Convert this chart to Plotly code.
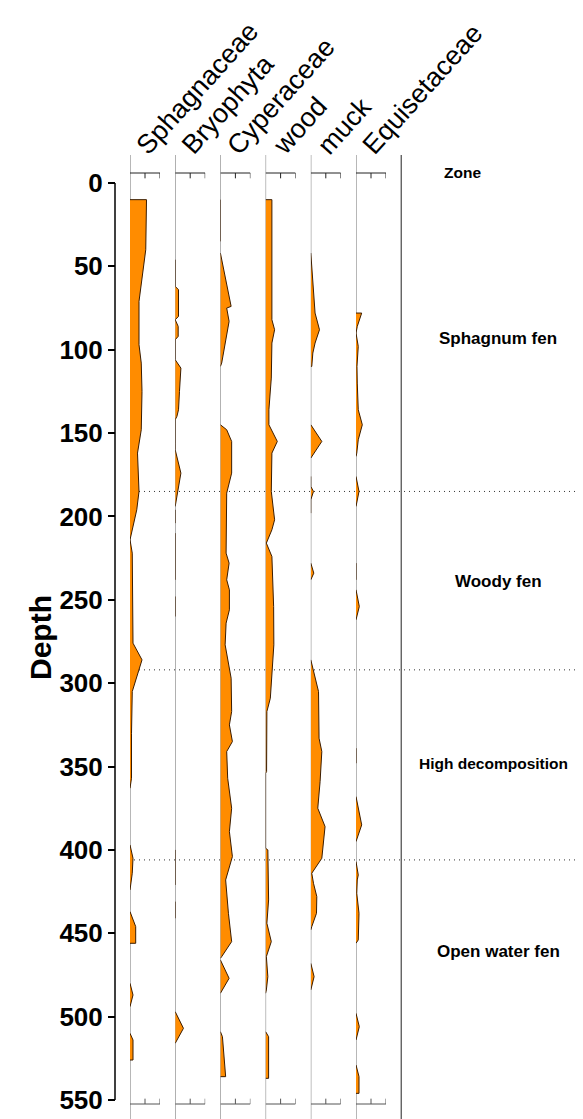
import plotly.graph_objects as go

# ---------------- data ----------------
taxa = ["Sphagnaceae", "Bryophyta", "Cyperaceae", "wood", "muck", "Equisetaceae"]

# each series: list of segments, each segment = (depths, values in %)
sphag_depth = [[10, 40, 71, 97, 108, 125, 136, 148, 162, 185, 196, 214, 222, 250, 276, 286, 305, 330, 357, 363],
               [397, 405, 414, 424], [437, 446, 456], [480, 487, 494], [510, 514, 526]]
sphag_val = [[22, 21, 12, 12, 15, 16, 16, 15, 10, 12, 9, 0, 3, 4, 4, 16, 3, 2, 2, 0],
             [0, 4, 3, 0], [0, 7.6, 7.6], [0, 4, 0], [0, 4, 4]]

bryo_depth = [[46, 62, 64, 80, 82, 86, 92, 94, 106, 111, 125, 136, 140, 142, 156, 160, 174, 194],
              [196, 204], [210, 238], [248, 260], [400, 421], [431, 441], [497, 507, 516]]
bryo_val = [[0, 0, 4.4, 4.4, 0, 4, 4, 0, 0, 7.6, 5.7, 4.4, 2.3, 0, 0, 0, 7.6, 0],
            [0, 0], [0, 0], [0, 0], [0, 0], [0, 0], [0, 11, 0]]

cyper_depth = [[10, 35], [42, 74, 75, 83, 108, 110],
               [145, 148, 155, 174, 186, 222, 228, 238, 244, 256, 264, 277, 297, 317, 325, 335, 341, 357,
                375, 389, 404, 418, 438, 455, 464, 465],
               [466, 477, 486], [509, 512, 536]]
cyper_val = [[0, 0], [0, 14.3, 8.4, 11.6, 1.7, 0],
             [0, 8.4, 15, 15, 8.4, 7.6, 11.6, 8.4, 12, 12, 7.6, 6.3, 14.3, 15, 12, 16, 8.4, 9.7,
              15, 12, 16, 7, 10.7, 15, 1.7, 0],
             [0, 11.6, 0], [0, 2.7, 7]]

wood_depth = [[10, 82, 88, 96, 117, 136, 145, 155, 162, 185, 202, 208, 216, 224, 254, 277, 309, 317,
               353, 354, 399, 400, 418, 430, 444, 455, 464, 476, 484, 486], [509, 512, 537]]
wood_val = [[8.4, 8.4, 12, 8.4, 7.6, 4.4, 4.4, 15.6, 8.4, 7.6, 12, 8.4, 1, 8.4, 10.7, 11, 6.3, 1.7,
             1.3, 0, 0, 3, 3, 4, 1.7, 7.6, 1, 3, 1, 0], [0, 4, 4]]

muck_depth = [[42, 58, 78, 88, 96, 102, 110], [145, 155, 165], [176, 182, 185, 190, 198], [228, 234, 238],
              [286, 305, 333, 341, 359, 375, 386, 405, 414, 420, 428, 438, 446, 448], [468, 476, 484]]
muck_val = [[0, 2.3, 5.7, 11.6, 5.7, 2.7, 1.3], [0, 14.7, 0], [0, 0, 3.6, 0, 0], [0, 4, 0],
            [0, 10.3, 11, 14.7, 12.4, 9.3, 19, 14.7, 1.3, 3.6, 8, 7.6, 1.3, 0], [0, 4.4, 0]]

equis_depth = [[78, 86, 90, 98, 110, 120, 136, 145, 154, 162, 164], [176, 185, 194], [228, 238],
               [244, 254, 262], [339, 348], [368, 385, 395], [407, 415, 418, 426, 438, 454, 456],
               [498, 506, 514], [529, 536, 546]]
equis_val = [[7.6, 1.7, 0, 3, 1.3, 1.7, 3, 8.4, 3, 1, 0], [0, 4, 0], [0, 0], [0, 4.4, 0], [0, 0],
             [0, 7.6, 0], [0, 3, 1.7, 1, 4, 3, 0], [0, 4.4, 0], [0, 4, 4]]

series_depths = [sphag_depth, bryo_depth, cyper_depth, wood_depth, muck_depth, equis_depth]
series_values = [sphag_val, bryo_val, cyper_val, wood_val, muck_val, equis_val]

zone_names = ["Sphagnum fen", "Woody fen", "High decomposition", "Open water fen"]
zone_label_depth = [93, 239, 348, 461]
zone_bounds = [185, 292, 406]

y_ticks = [0, 50, 100, 150, 200, 250, 300, 350, 400, 450, 500, 550]
x_ticks = [0, 20, 40]

# ---------------- layout geometry (screen pixels; page body has an 8px margin) ----------------
OFF = 8
W, H = 583 - OFF, 1119 - OFF
PLOT_L, PLOT_T = 115, 155          # screen px of plot-area left / top
ML, MT = PLOT_L - OFF, PLOT_T - OFF
PW, PH = W - ML, H - MT
Y0_PX, PX_PER_UNIT = 183, 1.6673   # screen y of depth 0 and scale
panel_left = [130, 175.2, 220.4, 265.6, 310.8, 356.0]
divider_px = 401.2
axis_w_px = 30
x_max = 40
zone_label_x = [498, 498, 493, 498]
zone_label_size = [17, 17, 15.5, 17]

def px_x(px):
    return (px - PLOT_L) / PW

def px_y(py):
    return 1 - (py - PLOT_T) / PH

def px_depth(py):
    return (py - Y0_PX) / PX_PER_UNIT

fill_col = "#FF8C00"
edge_col = "#3a1c00"

fig = go.Figure()
shapes = []
annotations = []

for k, (segs_d, segs_v) in enumerate(zip(series_depths, series_values)):
    xs, ys = [], []
    for d, v in zip(segs_d, segs_v):
        xs += [0] + list(v) + [0, None]
        ys += [d[0]] + list(d) + [d[-1], None]
    xname = "x" if k == 0 else f"x{k+1}"
    fig.add_trace(go.Scatter(x=xs, y=ys, mode="lines", fill="toself", fillcolor=fill_col,
                             line=dict(color=edge_col, width=1), xaxis=xname, yaxis="y",
                             hoverinfo="skip", showlegend=False, name=taxa[k]))
    ax = dict(domain=[px_x(panel_left[k]), px_x(panel_left[k] + axis_w_px)], range=[0, x_max],
              visible=False, anchor="y", fixedrange=True)
    fig.update_layout(**{("xaxis" if k == 0 else f"xaxis{k+1}"): ax})

    # panel baseline
    shapes.append(dict(type="line", xref=xname, yref="paper", x0=0, x1=0, y0=0, y1=1,
                       line=dict(color="#707070", width=1), layer="below"))
    # top & bottom mini axes
    dtop = px_depth(173)
    dbot = px_depth(1104)
    tl = 3.2
    shapes.append(dict(type="line", xref=xname, yref="y", x0=0, x1=x_ticks[-1], y0=dtop, y1=dtop,
                       line=dict(color="#222", width=1)))
    shapes.append(dict(type="line", xref=xname, yref="y", x0=0, x1=x_ticks[-1], y0=dbot, y1=dbot,
                       line=dict(color="#555", width=1)))
    for t in x_ticks[1:]:
        shapes.append(dict(type="line", xref=xname, yref="y", x0=t, x1=t, y0=dtop, y1=dtop + tl,
                           line=dict(color="#222", width=1)))
        shapes.append(dict(type="line", xref=xname, yref="y", x0=t, x1=t, y0=dbot, y1=dbot - tl,
                           line=dict(color="#555", width=1)))
    # header
    annotations.append(dict(text=taxa[k], xref="paper", yref="paper", x=px_x(panel_left[k] - 2),
                            y=px_y(163), xanchor="left", yanchor="bottom", textangle=-48,
                            showarrow=False, font=dict(family="Liberation Sans, Arial", size=27, color="black")))

# divider line
shapes.append(dict(type="line", xref="paper", yref="paper", x0=px_x(divider_px), x1=px_x(divider_px),
                   y0=0, y1=1, line=dict(color="#222", width=1)))
# y axis line
shapes.append(dict(type="line", xref="paper", yref="y", x0=0, x1=0, y0=y_ticks[0], y1=y_ticks[-1],
                   line=dict(color="black", width=1.5)))
# zone boundaries
for b in zone_bounds:
    shapes.append(dict(type="line", xref="paper", yref="y", x0=px_x(134), x1=1, y0=b, y1=b,
                       line=dict(color="#333", width=1, dash="1px,4px"), layer="below"))

zone_font = dict(family="Liberation Sans, Arial, sans-serif", size=17, color="black", weight="bold")
for name, d, zx, zs in zip(zone_names, zone_label_depth, zone_label_x, zone_label_size):
    annotations.append(dict(text=name, xref="paper", yref="y", x=px_x(zx), y=d, xanchor="center",
                            yanchor="middle", showarrow=False, font=dict(zone_font, size=zs)))
annotations.append(dict(text="Zone", xref="paper", yref="paper", x=px_x(462), y=px_y(172),
                        xanchor="center", yanchor="middle", showarrow=False,
                        font=dict(zone_font, size=15.5)))
annotations.append(dict(text="Depth", xref="paper", yref="y", x=px_x(40), y=px_depth(638), xanchor="center",
                        yanchor="middle", textangle=-90, showarrow=False,
                        font=dict(family="Liberation Sans, Arial", size=30, color="black", weight="bold")))

fig.update_layout(
    width=W, height=H,
    margin=dict(l=ML, r=0, t=MT, b=0, pad=0),
    paper_bgcolor="white", plot_bgcolor="white",
    yaxis=dict(range=[px_depth(1119), px_depth(PLOT_T)], anchor="free", position=0,
               tickmode="array", tickvals=y_ticks, ticktext=[str(t) for t in y_ticks],
               ticks="outside", ticklen=7, tickwidth=1.5, tickcolor="black",
               showline=False, showgrid=False, zeroline=False, fixedrange=True,
               tickfont=dict(family="Liberation Sans, Arial", size=26, color="black", weight="bold")),
    shapes=shapes, annotations=annotations, showlegend=False,
)

fig.write_html("out.html")
